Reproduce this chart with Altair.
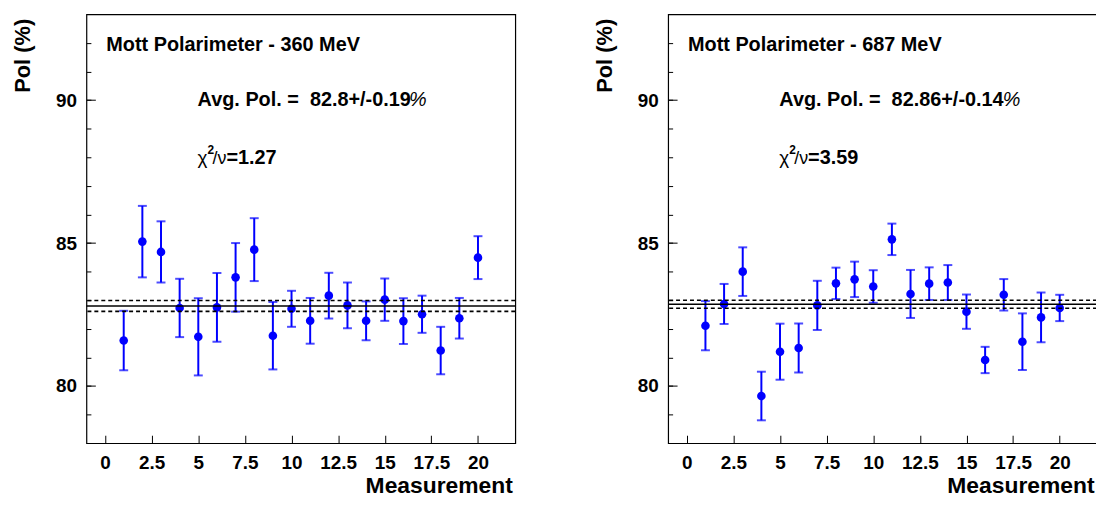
import altair as alt
import pandas as pd

measurement = list(range(1, 21))

pol_360 = [81.59, 85.05, 84.69, 82.73, 81.72, 82.75, 83.80, 84.77, 81.76, 82.70,
           82.28, 83.16, 82.82, 82.28, 83.02, 82.27, 82.51, 81.24, 82.37, 84.49]
err_360 = [1.04, 1.25, 1.07, 1.02, 1.35, 1.20, 1.20, 1.10, 1.18, 0.63,
           0.80, 0.80, 0.80, 0.68, 0.74, 0.80, 0.65, 0.83, 0.71, 0.75]

pol_687 = [82.11, 82.87, 84.00, 79.65, 81.20, 81.33, 82.82, 83.59, 83.73, 83.48,
           85.13, 83.22, 83.58, 83.62, 82.60, 80.91, 83.19, 81.55, 82.40, 82.73]
err_687 = [0.86, 0.70, 0.85, 0.85, 0.98, 0.86, 0.86, 0.55, 0.62, 0.57,
           0.55, 0.84, 0.57, 0.61, 0.60, 0.46, 0.55, 0.99, 0.87, 0.46]

avg_360, avg_err_360 = 82.8, 0.19
avg_687, avg_err_687 = 82.86, 0.14

titles = ["Mott Polarimeter - 360 MeV", "Mott Polarimeter - 687 MeV"]
avg_texts = ["Avg. Pol. =\u00a0 82.8+/-0.19", "Avg. Pol. =\u00a0 82.86+/-0.14"]
chi_values = ["=1.27", "=3.59"]

x_ticks = [0, 2.5, 5, 7.5, 10, 12.5, 15, 17.5, 20]
y_major = [80, 85, 90]
y_minor = list(range(79, 93))

FONT = "Liberation Sans"
BLUE = "#0000ff"
W = 432
H = 432


def panel(pol, err, avg, avg_err, title, avg_text, chi_value, pct_x):
    df = pd.DataFrame({"m": measurement, "pol": pol, "err": err})
    df["lo"] = df["pol"] - df["err"]
    df["hi"] = df["pol"] + df["err"]

    xs = alt.Scale(domain=[-1, 22], nice=False, zero=False)
    ys = alt.Scale(domain=[78, 93], nice=False, zero=False)

    x_axis = alt.Axis(values=x_ticks, labelExpr="'' + datum.value", orient="bottom",
                      offset=-8, tickSize=8, domain=False, grid=False, labelPadding=11,
                      title="Measurement", titleX=429, titleY=58,
                      titleAlign="right", titleBaseline="alphabetic",
                      titleFontSize=23, labelFlush=False)
    x_enc = alt.X("m:Q", scale=xs, axis=x_axis)

    major_axis = alt.Axis(values=y_major, format="d", orient="left", offset=-9,
                          tickSize=9, domain=False, grid=False, labelPadding=10,
                          title="Pol (%)", titleX=-66, titleY=4, titleAngle=270,
                          titleAlign="right", titleBaseline="alphabetic",
                          titleFontSize=22)
    minor_axis = alt.Axis(values=y_minor, orient="left", offset=-4.5, tickSize=4.5,
                          domain=False, grid=False, labels=False, title=None)

    base = alt.Chart(df)
    bars = base.mark_rule(color=BLUE, strokeWidth=2).encode(
        x=x_enc, y=alt.Y("lo:Q", scale=ys, axis=major_axis), y2="hi:Q")
    cap_lo = base.mark_tick(orient="horizontal", size=9, thickness=2, color=BLUE).encode(
        x=x_enc, y=alt.Y("lo:Q", scale=ys, axis=None))
    cap_hi = base.mark_tick(orient="horizontal", size=9, thickness=2, color=BLUE).encode(
        x=x_enc, y=alt.Y("hi:Q", scale=ys, axis=minor_axis))
    pts = base.mark_circle(size=75, color=BLUE, opacity=1).encode(
        x=x_enc, y=alt.Y("pol:Q", scale=ys, axis=None))

    avg_df = pd.DataFrame({"v": [avg]})
    band_df = pd.DataFrame({"v": [avg - avg_err, avg + avg_err]})
    avg_line = alt.Chart(avg_df).mark_rule(color="black", strokeWidth=1.6).encode(
        y=alt.Y("v:Q", scale=ys, axis=None))
    band_lines = alt.Chart(band_df).mark_rule(color="black", strokeWidth=1.6,
                                              strokeDash=[4, 3]).encode(
        y=alt.Y("v:Q", scale=ys, axis=None))

    def txt(s, x, y, weight="bold", style="normal", size=20):
        return alt.Chart(pd.DataFrame({"t": [s]})).mark_text(
            align="left", baseline="alphabetic", font=FONT, fontSize=size,
            fontWeight=weight, fontStyle=style, color="black").encode(
            text="t:N", x=alt.value(x), y=alt.value(y))

    layers = [
        bars, cap_lo, cap_hi, pts, avg_line, band_lines,
        txt(title, 20, 37),
        txt(avg_text, 112, 92),
        txt("%", pct_x, 92, weight="normal", style="italic"),
        txt("\u03c7", 112, 151, weight="normal", size=19),
        txt("2", 122, 141, size=12),
        txt("/\u03bd", 127, 151, weight="normal", size=18),
        txt(chi_value, 141, 151),
    ]
    return alt.layer(*layers).resolve_axis(y="independent").properties(width=W, height=H)


left = panel(pol_360, err_360, avg_360, avg_err_360, titles[0], avg_texts[0], chi_values[0], 325)
right = panel(pol_687, err_687, avg_687, avg_err_687, titles[1], avg_texts[1], chi_values[1], 337)

chart = alt.hconcat(left, right, spacing=154, bounds="flush").properties(
    autosize=alt.AutoSizeParams(type="none"),
    padding={"left": 79, "top": 3, "right": 1017, "bottom": 485}
).configure_view(stroke="black", strokeWidth=1.2).configure_axis(
    labelFont=FONT, labelFontSize=19, labelFontWeight="bold", labelColor="black",
    titleFont=FONT, titleFontWeight="bold", titleColor="black",
    tickColor="black", tickWidth=1
)

chart.save("out.html", embed_options={"renderer": "svg", "actions": False})
